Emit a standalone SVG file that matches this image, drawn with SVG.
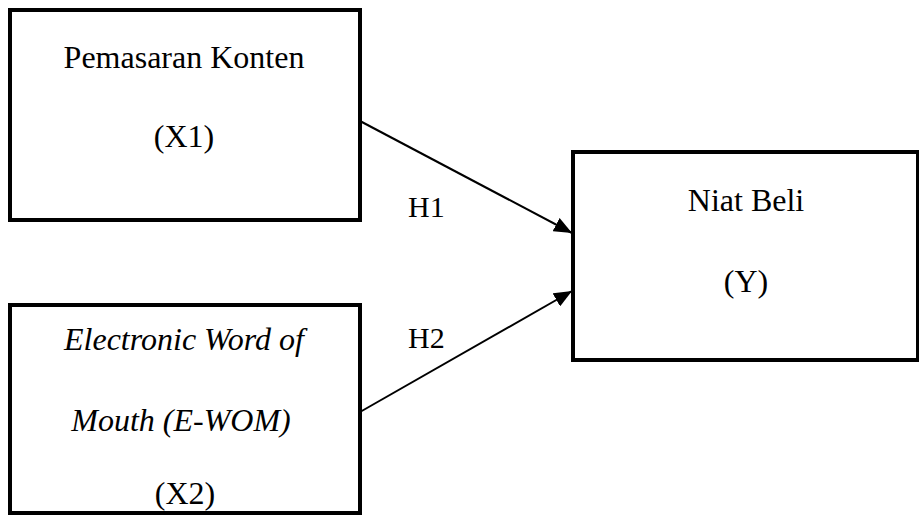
<svg xmlns="http://www.w3.org/2000/svg" width="919" height="516" viewBox="0 0 919 516">
<style>
.box{fill:#fff;stroke:#000;stroke-width:4}
.t{font-family:'Liberation Serif','Times New Roman',serif;font-size:32px;fill:#000;text-anchor:middle}
.i{font-style:italic}
.h{font-family:'Liberation Serif','Times New Roman',serif;font-size:30px;fill:#000}
.c{stroke:#000;stroke-width:2;fill:none}
</style>
<defs>
<marker id="ah" markerUnits="userSpaceOnUse" markerWidth="19" markerHeight="15" refX="18" refY="7.5" orient="auto">
<path d="M0,0 L18,7.5 L0,15 Z" fill="#000"/>
</marker>
</defs>
<rect width="919" height="516" fill="#fff"/>
<g id="connectors">
<line class="c" x1="360" y1="121" x2="572" y2="233" marker-end="url(#ah)"/>
<line class="c" x1="360" y1="412" x2="572" y2="291" marker-end="url(#ah)"/>
<text class="h" x="408" y="217">H1</text>
<text class="h" x="408" y="348">H2</text>
</g>
<g id="x1">
<rect class="box" x="10" y="10" width="350" height="210"/>
<text class="t" x="184" y="68">Pemasaran Konten</text>
<text class="t" x="184" y="147">(X1)</text>
</g>
<g id="x2">
<rect class="box" x="10" y="305" width="350" height="208"/>
<text class="t i" x="184" y="350">Electronic Word of</text>
<text class="t i" x="181" y="431">Mouth (E-WOM)</text>
<text class="t" x="185" y="504">(X2)</text>
</g>
<g id="y">
<rect class="box" x="573" y="152" width="345" height="208"/>
<text class="t" x="746" y="211">Niat Beli</text>
<text class="t" x="746" y="292">(Y)</text>
</g>
</svg>
